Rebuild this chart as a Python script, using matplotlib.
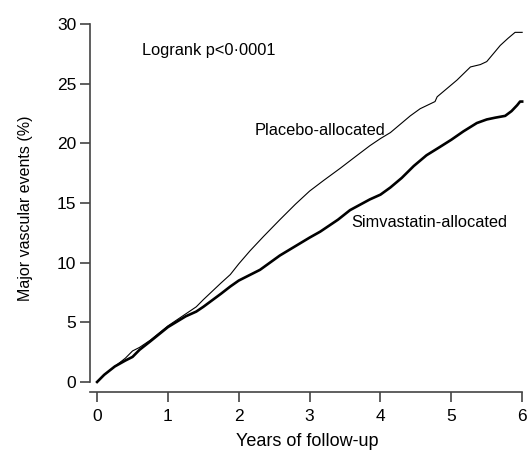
import numpy as np
import matplotlib
matplotlib.use('Agg')
import matplotlib.pyplot as plt

plt.rcParams['font.family'] = ['Liberation Sans', 'DejaVu Sans']

# cumulative % with a major vascular event
years_pl = [0.0, 0.1, 0.25, 0.4, 0.5, 0.6, 0.75, 1.0, 1.25, 1.4, 1.5, 1.75,
            1.88, 2.0, 2.16, 2.35, 2.58, 2.8, 3.0, 3.2, 3.43, 3.65, 3.85,
            4.0, 4.14, 4.28, 4.42, 4.56, 4.77, 4.8, 4.84, 5.08, 5.27, 5.41,
            5.5, 5.62, 5.69, 5.8, 5.9, 6.0]
placebo = [0.0, 0.6, 1.3, 2.0, 2.6, 2.9, 3.5, 4.7, 5.7, 6.3, 6.9, 8.3,
           9.0, 9.9, 11.0, 12.2, 13.6, 14.9, 16.0, 16.9, 17.9, 18.9, 19.8,
           20.4, 20.9, 21.6, 22.3, 22.9, 23.5, 23.9, 24.1, 25.3, 26.4, 26.6,
           26.85, 27.7, 28.2, 28.8, 29.3, 29.3]

years_sv = [0.0, 0.1, 0.25, 0.4, 0.5, 0.6, 0.75, 1.0, 1.25, 1.4, 1.5, 1.75,
            1.88, 2.0, 2.3, 2.58, 2.72, 3.0, 3.15, 3.4, 3.57, 3.85, 4.0,
            4.14, 4.3, 4.47, 4.65, 4.84, 5.0, 5.17, 5.36, 5.5, 5.62, 5.76,
            5.85, 5.93, 5.97, 6.0]
simva = [0.0, 0.6, 1.3, 1.8, 2.1, 2.7, 3.4, 4.6, 5.5, 5.9, 6.3, 7.4,
         8.0, 8.5, 9.4, 10.6, 11.1, 12.1, 12.6, 13.6, 14.4, 15.3, 15.7,
         16.3, 17.1, 18.1, 19.0, 19.7, 20.3, 21.0, 21.7, 22.0, 22.15, 22.3,
         22.7, 23.2, 23.5, 23.5]

xticks = [0, 1, 2, 3, 4, 5, 6]
yticks = [0, 5, 10, 15, 20, 25, 30]

fig = plt.figure(figsize=(5.3, 4.51), dpi=100)
ax = fig.add_axes([90/530, (451-392)/451, (525-90)/530, (392-24)/451])

ax.plot(years_pl, placebo, color='black', lw=0.8)
ax.plot(years_sv, simva, color='black', lw=1.9)

ax.set_xlim(-0.1, 6.04)
ax.set_ylim(-0.84, 30.0)

for s in ['top', 'right']:
    ax.spines[s].set_visible(False)
ax.spines['left'].set_bounds(0, 30)
ax.spines['bottom'].set_bounds(-0.1, 6)
for s in ['left', 'bottom']:
    ax.spines[s].set_color('#444444')
    ax.spines[s].set_linewidth(1.2)

ax.set_xticks(xticks)
ax.set_yticks(yticks)
ax.tick_params(direction='out', length=7, width=1.2, color='#444444',
               labelsize=12.5)
ax.tick_params(axis='x', pad=5)
ax.tick_params(axis='y', pad=3)

ax.set_xlabel('Years of follow-up', fontsize=13, labelpad=7)
ax.set_ylabel('Major vascular events (%)', fontsize=11.5, labelpad=17)

ax.text(0.64, 27.8, 'Logrank p<0·0001', fontsize=11.8, va='center')
ax.text(2.22, 21.1, 'Placebo-allocated', fontsize=11.8, va='center')
ax.text(3.59, 13.4, 'Simvastatin-allocated', fontsize=11.8, va='center')

fig.savefig('out.png', dpi=100)
